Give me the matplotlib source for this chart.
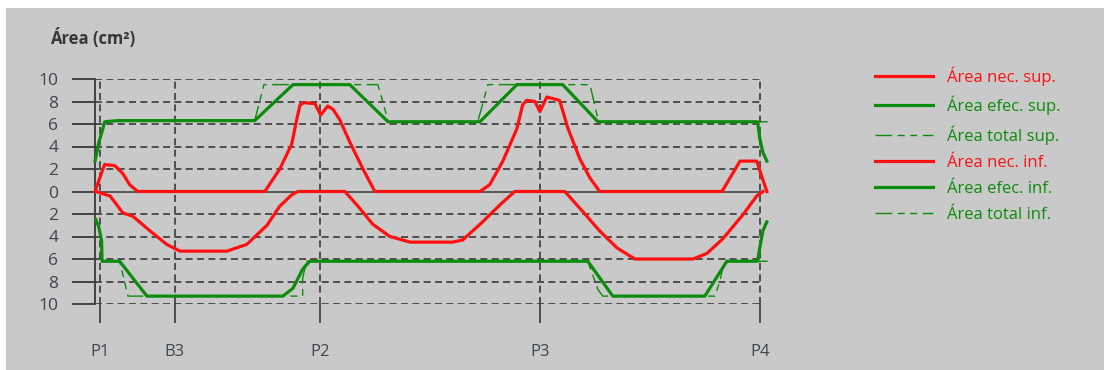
import matplotlib
matplotlib.use("Agg")
import matplotlib.pyplot as plt
from matplotlib.patches import Rectangle

plt.rcParams['font.family'] = ['Open Sans', 'DejaVu Sans']

# supports along the beam (m)
support_names = ['P1', 'B3', 'P2', 'P3', 'P4']
support_pos = [0.0, 1.70, 5.0, 10.0, 15.0]

# top reinforcement (cm2)
x_nec_sup = [-0.11, 0.07, 0.11, 0.34, 0.52, 0.68, 0.86, 3.75, 4.09, 4.36, 4.48, 4.55, 4.64, 4.89,
             5.02, 5.18, 5.30, 5.45, 5.68, 5.98, 6.25, 8.64, 8.86, 9.16, 9.48, 9.61, 9.70, 9.89,
             10.0, 10.16, 10.45, 10.64, 10.91, 11.14, 11.36, 14.14, 14.55, 14.93, 15.16]
nec_sup = [0, 2.0, 2.4, 2.3, 1.6, 0.6, 0, 0, 2.0, 4.2, 6.5, 7.7, 7.9, 7.8,
           6.8, 7.6, 7.3, 6.4, 4.4, 2.0, 0, 0, 0.6, 2.7, 5.6, 7.7, 8.1, 8.0,
           7.1, 8.4, 8.1, 5.6, 2.9, 1.2, 0, 0, 2.7, 2.7, 0]

x_efec_sup = [-0.11, -0.02, 0.07, 0.11, 0.41, 3.52, 4.39, 5.68, 6.55, 8.64, 9.48, 10.52, 11.32,
              14.95, 15.0, 15.07, 15.16]
efec_sup = [2.7, 4.4, 5.6, 6.2, 6.3, 6.3, 9.5, 9.5, 6.2, 6.2, 9.5, 9.5, 6.2,
            6.2, 4.7, 3.5, 2.7]

x_total_sup = [-0.11, -0.02, 0.07, 0.11, 0.41, 3.52, 3.73, 6.32, 6.50, 6.55, 8.59, 8.82, 11.14,
               11.30, 11.36, 15.18]
total_sup = [2.7, 4.4, 5.6, 6.2, 6.3, 6.3, 9.5, 9.5, 7.0, 6.2, 6.2, 9.5, 9.5,
             6.8, 6.2, 6.2]

# bottom reinforcement (cm2, drawn downwards)
x_nec_inf = [-0.09, 0.23, 0.39, 0.52, 0.75, 1.14, 1.52, 1.82, 2.89, 3.34, 3.80, 4.09, 4.36, 4.50,
             5.57, 5.91, 6.20, 6.59, 7.05, 8.02, 8.25, 8.70, 9.09, 9.43, 10.57, 10.98, 11.36,
             11.75, 12.16, 13.48, 13.80, 14.16, 14.61, 14.93, 15.07]
nec_inf = [0, 0.4, 1.2, 1.9, 2.2, 3.5, 4.7, 5.3, 5.3, 4.7, 3.0, 1.3, 0.3, 0,
           0, 1.5, 2.9, 4.0, 4.5, 4.5, 4.3, 2.7, 1.2, 0, 0, 1.8, 3.5,
           5.0, 6.0, 6.0, 5.5, 4.2, 2.1, 0.4, 0]

x_efec_inf = [-0.09, -0.02, 0.04, 0.05, 0.45, 1.07, 4.16, 4.39, 4.61, 4.77, 11.09, 11.66, 13.75,
              14.25, 14.95, 15.0, 15.07, 15.16]
efec_inf = [2.5, 3.2, 4.4, 6.2, 6.2, 9.3, 9.3, 8.6, 6.9, 6.2, 6.2, 9.3, 9.3,
            6.2, 6.2, 5.0, 3.5, 2.7]

x_total_inf = [-0.09, -0.02, 0.04, 0.05, 0.45, 0.64, 4.61, 4.61, 4.70, 11.09, 11.32, 11.43, 13.98,
               14.09, 14.16, 14.25, 15.18]
total_inf = [2.5, 3.2, 4.4, 6.2, 6.2, 9.3, 9.3, 7.7, 6.2, 6.2, 8.7, 9.3, 9.3,
             8.0, 6.8, 6.2, 6.2]

y_ticks = [-10, -8, -6, -4, -2, 0, 2, 4, 6, 8, 10]

red = '#ff1010'
green = '#0c8c0c'
grid_col = '#3a3a3a'
text_col = '#3e4650'

W, H = 1104, 370
fig = plt.figure(figsize=(W / 100, H / 100), dpi=100)
fig.patch.set_facecolor('white')
fig.add_artist(Rectangle((6 / W, 0), 1, 1 - 8 / H, transform=fig.transFigure,
                         facecolor='#c9c9c9', edgecolor='none', zorder=-10))

ax = fig.add_axes([95 / W, 1 - 304 / H, 667 / W, 225 / H])
ax.set_facecolor('none')
ax.set_xlim(-0.11, 15.05)
ax.set_ylim(-10, 10)

# grid
for yv in y_ticks:
    if yv != 0:
        ax.axhline(yv, color=grid_col, lw=1.2, ls=(0, (4.2, 2.6)), zorder=1)
for xv in support_pos:
    ax.axvline(xv, color=grid_col, lw=1.2, ls=(0, (4.2, 2.6)), zorder=1)
ax.axhline(0, color='#505050', lw=1.3, zorder=2)

dash_pat = (0, (12, 4, 5, 4, 5, 4))
ax.plot(x_nec_sup, nec_sup, color=red, lw=2.3, label='Área nec. sup.', zorder=5, clip_on=False)
ax.plot(x_efec_sup, efec_sup, color=green, lw=2.3, label='Área efec. sup.', zorder=4, clip_on=False)
ax.plot(x_total_sup, total_sup, color=green, lw=1.0, ls=dash_pat, label='Área total sup.', zorder=3, clip_on=False)
ax.plot(x_nec_inf, [-v for v in nec_inf], color=red, lw=2.3, label='Área nec. inf.', zorder=5, clip_on=False)
ax.plot(x_efec_inf, [-v for v in efec_inf], color=green, lw=2.3, label='Área efec. inf.', zorder=4, clip_on=False)
ax.plot(x_total_inf, [-v for v in total_inf], color=green, lw=1.0, ls=dash_pat, label='Área total inf.', zorder=3, clip_on=False)

for s in ['top', 'right', 'bottom']:
    ax.spines[s].set_visible(False)
ax.spines['left'].set_color(grid_col)
ax.spines['left'].set_linewidth(1.3)

ax.set_yticks(y_ticks)
ax.set_yticklabels([str(abs(v)) for v in y_ticks])
ax.set_xticks(support_pos)
ax.set_xticklabels(support_names)
ax.tick_params(axis='y', direction='out', length=16.5, width=1.3, color=grid_col,
               labelsize=12.5, labelcolor=text_col, pad=10)
ax.tick_params(axis='x', direction='out', length=13.5, width=1.2, color=grid_col,
               labelsize=12, labelcolor=text_col, pad=15)

fig.text(50 / W, 1 - 38 / H, 'Área (cm²)', fontsize=12, fontweight='bold',
         color='#383838', va='center', ha='left')

leg = ax.legend(loc='upper left', bbox_to_anchor=(875 / W, 1 - 66 / H),
                bbox_transform=fig.transFigure, frameon=False, fontsize=12,
                handlelength=3.5, handletextpad=0.84, labelspacing=0.61,
                borderpad=0, borderaxespad=0, labelcolor='linecolor')

fig.savefig('out.png', dpi=100)
